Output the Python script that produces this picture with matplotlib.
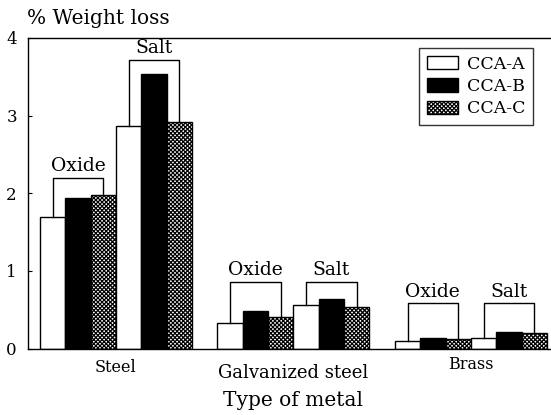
import matplotlib
matplotlib.use("Agg")
import matplotlib.pyplot as plt
import numpy as np

# ---- data ----
metals = ["Steel", "Galvanized steel", "Brass"]
treatments = ["Oxide", "Salt"]
series = ["CCA-A", "CCA-B", "CCA-C"]
# values ordered: [metal][treatment]
cca_a = [[1.70, 2.86], [0.33, 0.56], [0.10, 0.13]]
cca_b = [[1.94, 3.54], [0.48, 0.64], [0.13, 0.21]]
cca_c = [[1.98, 2.92], [0.41, 0.54], [0.12, 0.20]]
bracket_tops = [[2.20, 3.72], [0.86, 0.86], [0.58, 0.58]]
yticks = [0, 1, 2, 3, 4]

plt.rcParams['font.family'] = ['DejaVu Serif']
plt.rcParams['hatch.linewidth'] = 0.9

fig = plt.figure(figsize=(5.51, 4.15), dpi=100)
ax = fig.add_axes([28/551, 66.5/415, 522/551, 310.5/415])

styles = [dict(facecolor='white', edgecolor='black'),
          dict(facecolor='black', edgecolor='black'),
          dict(facecolor='white', edgecolor='black', hatch='xxxxxxxx')]
all_series = [cca_a, cca_b, cca_c]

for m in range(len(metals)):
    for t in range(len(treatments)):
        base = m * 7 + t * 3
        for s in range(3):
            val = all_series[s][m][t]
            ax.bar(base + s + 0.5, val, width=1.0, linewidth=1.0,
                   label=series[s] if (m == 0 and t == 0) else None,
                   **styles[s])
        # bracket
        xl, xr = base + 0.5, base + 2.5
        top = bracket_tops[m][t]
        ax.plot([xl, xl, xr, xr], [all_series[0][m][t], top, top, all_series[2][m][t]],
                color='black', linewidth=1.0)
        ax.annotate(treatments[t], xy=((xl + xr) / 2, top), xytext=(0, 2),
                    textcoords='offset points', ha='center', va='bottom',
                    fontsize=13.5)

ax.set_xlim(-0.47, 20.12)
ax.set_ylim(0, 4)
ax.set_yticks(yticks)
ax.set_yticklabels([str(v) for v in yticks], fontsize=12)
ax.tick_params(axis='y', direction='in', length=3, pad=8)
ax.set_xticks([])
ax.spines['right'].set_visible(False)
for sp in ['left', 'top', 'bottom']:
    ax.spines[sp].set_linewidth(1.0)

label_offsets = [-19, -24, -16]
for m, name in enumerate(metals):
    ax.annotate(name, xy=(m * 7 + 3, 0), xycoords='data',
                xytext=(0, label_offsets[m]), textcoords='offset pixels',
                ha='center', va='center', fontsize=11.5 if m != 1 else 13,
                annotation_clip=False)

fig.text(293/551, 1 - 400/415, "Type of metal", ha='center', va='center', fontsize=14.5)
fig.text(27/551, 1 - 18/415, "% Weight loss", ha='left', va='center', fontsize=14.5)

leg = ax.legend(loc='upper right', bbox_to_anchor=(505/522, 1 - 10/310.5),
                frameon=True, fancybox=False, edgecolor='black', fontsize=12.5,
                handlelength=1.8, handleheight=0.8, handletextpad=0.5,
                borderpad=0.45, labelspacing=0.3, borderaxespad=0)
leg.get_frame().set_linewidth(1.0)

fig.savefig("out.png", dpi=100)
